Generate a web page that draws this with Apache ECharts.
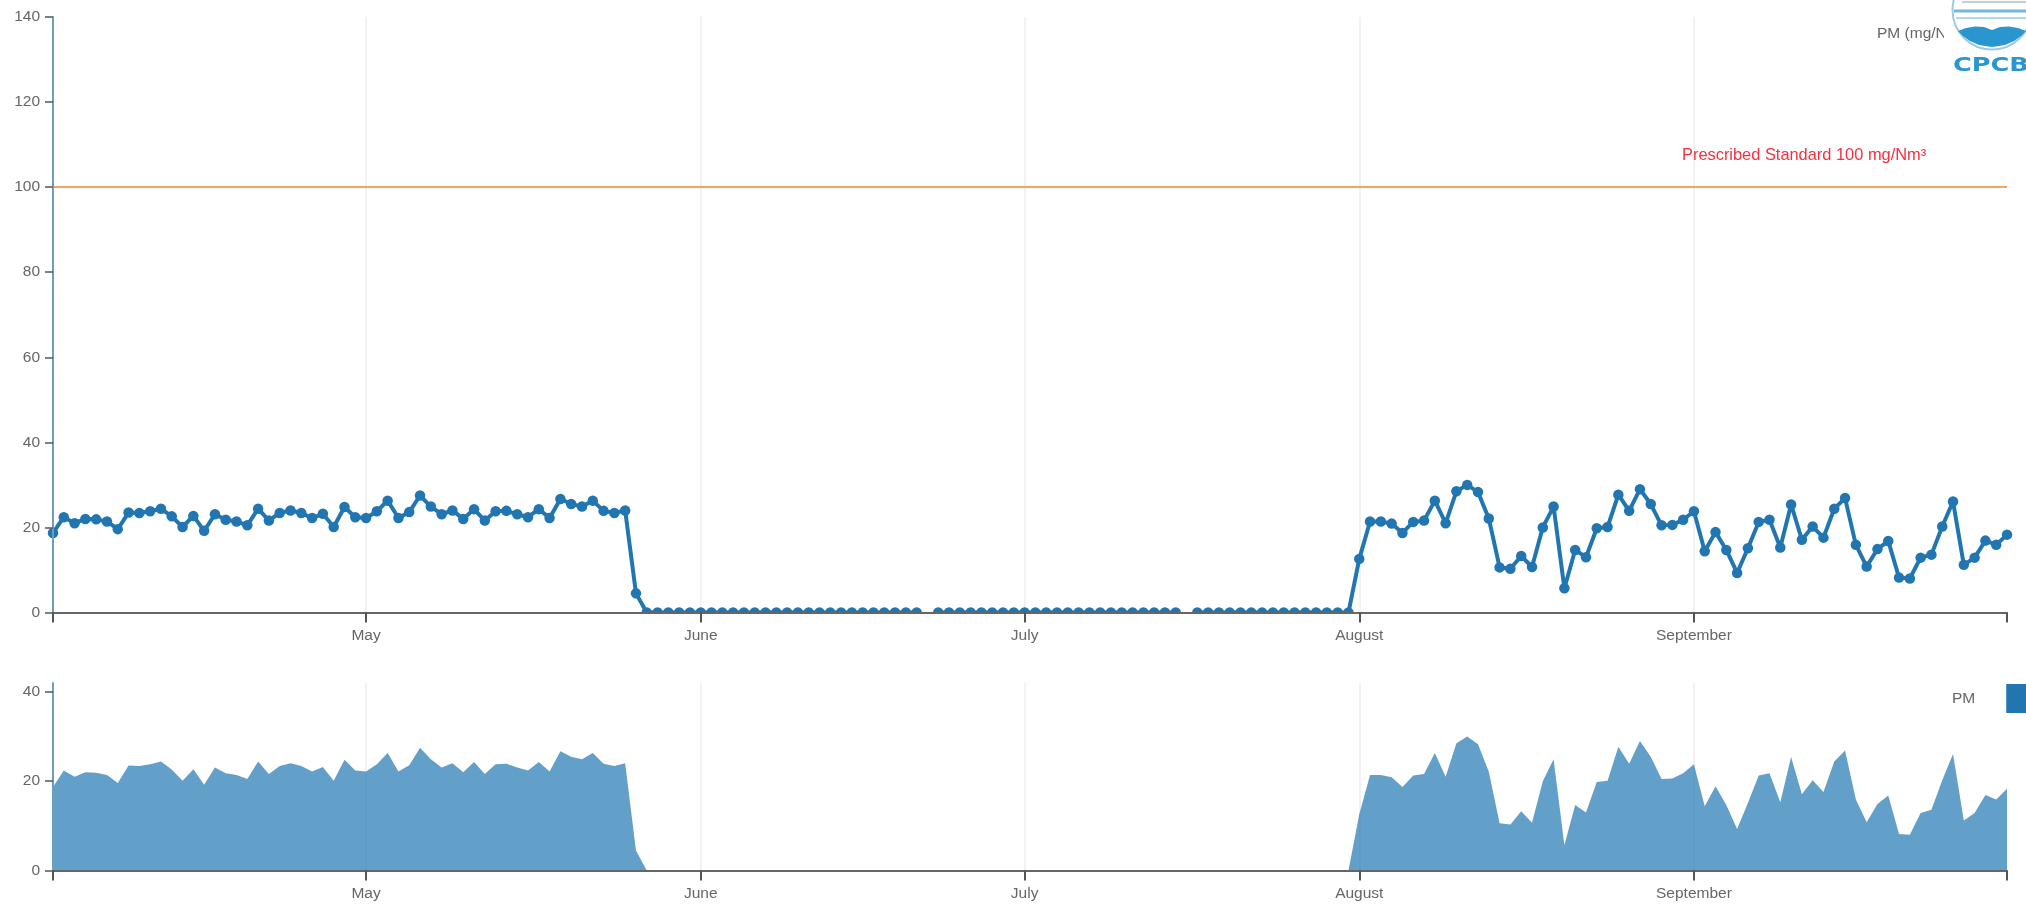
<!DOCTYPE html>
<html>
<head>
<meta charset="utf-8">
<title>PM</title>
<style>html,body{margin:0;padding:0;background:#fff;overflow:hidden}#c{width:2026px;height:905px}</style>
<script src="https://cdn.jsdelivr.net/npm/echarts@6/dist/echarts.min.js"></script>
</head>
<body>
<div id="c"></div>
<script>
const pmValues = [
  18.7,22.4,21.0,22.0,21.9,21.4,19.6,23.5,23.4,23.8,24.4,22.6,20.1,22.7,19.2,23.1,21.8,21.4,20.5,24.4,21.6,23.4,24.0,23.4,22.2,23.2,20.1,24.8,22.4,
  22.2,23.8,26.3,22.2,23.6,27.5,24.9,23.1,24.0,22.0,24.3,21.6,23.8,23.9,23.1,22.4,24.3,22.2,26.7,25.5,24.9,26.3,23.9,23.4,24.0,4.5,
  0,0,0,0,0,0,0,0,0,0,0,0,0,0,0,0,0,0,0,0,0,0,0,0,0,0,
  null,
  0,0,0,0,0,0,0,0,0,0,0,0,0,0,0,0,0,0,0,0,0,0,0,
  null,
  0,0,0,0,0,0,0,0,0,0,0,0,0,0,0,
  12.6,21.4,21.4,20.9,18.7,21.3,21.6,26.3,21.0,28.5,30.0,28.3,22.1,10.6,10.3,13.3,10.7,20.0,24.9,5.7,14.7,13.0,19.8,20.1,27.7,23.9,29.0,25.5,20.5,20.6,21.8,
  23.8,14.4,18.9,14.7,9.3,15.1,21.3,21.8,15.3,25.4,17.1,20.2,17.6,24.4,26.9,15.9,10.8,14.9,16.8,8.2,8.0,12.9,13.6,20.2,26.1,11.2,12.9,16.9,15.9,18.3
];
const monthTicks = {'05-01':'May','06-01':'June','07-01':'July','08-01':'August','09-01':'September'};
const standardValue = 100;
const yMaxBrush = 42;

const days = pmValues.map(function (_, i) {
  const d = new Date(Date.UTC(2021, 3, 2 + i));
  return d.toISOString().slice(5, 10);
});
const lastIdx = days.length - 1;
const isMonth = function (i, v) { return monthTicks[v] !== undefined; };
const isTick = function (i, v) { return i === 0 || i === lastIdx || monthTicks[v] !== undefined; };

const textColor = '#666';
const fontFamily = '"Liberation Sans", Arial, sans-serif';

function xAxis(gridIndex) {
  return {
    type: 'category', gridIndex: gridIndex, data: days, boundaryGap: false, z: 10,
    axisLine: {show: true, onZero: false, lineStyle: {color: '#666', width: 2}},
    axisTick: {show: true, length: 10, interval: isTick, lineStyle: {color: '#555', width: 2}},
    axisLabel: {
      show: true, interval: isMonth, margin: 15, color: textColor, fontSize: 15.5, fontFamily: fontFamily,
      hideOverlap: false, formatter: function (v) { return monthTicks[v] || ''; }
    },
    splitLine: {show: false}
  };
}
function gridLineAxis(gridIndex) {
  return {
    type: 'category', gridIndex: gridIndex, data: days, boundaryGap: false, position: 'top', z: 0,
    axisLine: {show: false}, axisTick: {show: false}, axisLabel: {show: false},
    splitLine: {show: true, interval: isMonth, lineStyle: {color: '#eeeeee', width: 1.5}}
  };
}
function yAxis(gridIndex, max, showMax) {
  return {
    type: 'value', gridIndex: gridIndex, min: 0, max: max, interval: 20, z: 10,
    axisLine: {show: true, lineStyle: {color: '#6f9fb8', width: 2}},
    axisTick: {show: true, length: 8, lineStyle: {color: '#555', width: 1.5}},
    axisLabel: {show: true, margin: 13, color: textColor, fontSize: 15.5, fontFamily: fontFamily, showMaxLabel: showMax},
    splitLine: {show: false}
  };
}

const chart = echarts.init(document.getElementById('c'), null, {renderer: 'canvas'});
chart.setOption({
  backgroundColor: '#fff',
  animation: false,
  grid: [
    {left: 53, right: 19, top: 17, height: 595.5},
    {left: 53, right: 19, top: 683, height: 187.5}
  ],
  legend: {
    show: true, data: ['PM'], left: 1947, top: 679, orient: 'horizontal', align: 'right',
    icon: 'rect', itemWidth: 40, itemHeight: 29, itemGap: 0, selectedMode: false,
    textStyle: {color: textColor, fontSize: 15.5, fontFamily: fontFamily, padding: [0, 26, 0, 0]}
  },
  xAxis: [xAxis(0), xAxis(1), gridLineAxis(0), gridLineAxis(1)],
  yAxis: [yAxis(0, 140, true), yAxis(1, yMaxBrush, false)],
  series: [
    {
      name: 'PM (mg/Nm³)', type: 'line', xAxisIndex: 0, yAxisIndex: 0, data: pmValues,
      symbol: 'circle', symbolSize: 10.5, showSymbol: true, showAllSymbol: true, connectNulls: false, z: 3,
      lineStyle: {color: '#2176b2', width: 4}, itemStyle: {color: '#2176b2'},
      markLine: {
        silent: true, symbol: 'none', animation: false, label: {show: false},
        lineStyle: {color: '#f4a460', width: 2, type: 'solid'},
        data: [{yAxis: standardValue}]
      }
    },
    {
      name: 'PM', type: 'line', xAxisIndex: 1, yAxisIndex: 1, data: pmValues,
      showSymbol: false, symbol: 'none', connectNulls: false, z: 3,
      lineStyle: {width: 0, color: '#2176b2'}, itemStyle: {color: '#2176b2'},
      areaStyle: {color: '#1f77b4', opacity: 0.7}
    }
  ],
  graphic: [
    {type: 'rect', silent: true, z: 5, shape: {x: 30, y: 613, width: 1996, height: 18}, style: {fill: '#fff'}},
    {type: 'text', silent: true, z: 20, x: 1682, y: 147, style: {text: 'Prescribed Standard 100 mg/Nm³', fill: '#f5303f', font: '16.4px "Liberation Sans", Arial, sans-serif'}},
    {type: 'text', silent: true, z: 20, x: 1877, y: 26, style: {text: 'PM (mg/Nm³)', fill: textColor, font: '15.5px "Liberation Sans", Arial, sans-serif'}},
    {type: 'rect', silent: true, z: 21, shape: {x: 1944, y: 0, width: 82, height: 76}, style: {fill: '#fff'}},
    {type: 'circle', silent: true, z: 22, shape: {cx: 1992, cy: 10, r: 39.5}, style: {fill: '#fff', stroke: '#9ccbe0', lineWidth: 2}},
    {type: 'line', silent: true, z: 22, shape: {x1: 1962, y1: 2, x2: 2026, y2: 2}, style: {stroke: '#8a9ea8', lineWidth: 1}},
    {type: 'line', silent: true, z: 22, shape: {x1: 1954, y1: 11, x2: 2026, y2: 11}, style: {stroke: '#74b8da', lineWidth: 3}},
    {type: 'line', silent: true, z: 22, shape: {x1: 1956, y1: 18, x2: 2026, y2: 18}, style: {stroke: '#9ccbe0', lineWidth: 1.5}},
    {type: 'polygon', silent: true, z: 22, shape: {points: [[1958,31],[1966,28],[1975,26.5],[1984,27],[1992,30],[2000,27],[2009,26.5],[2018,28],[2026,31],[2021,36],[2014,41],[2005,45],[1992,47],[1979,45],[1970,41],[1963,36]]}, style: {fill: '#2a96cf'}},
    {type: 'text', silent: true, z: 22, x: 1953, y: 56, scaleX: 1.28, style: {text: 'CPCB', fill: '#2a96cf', font: 'bold 20px "DejaVu Sans", sans-serif'}}
  ]
});
</script>
</body>
</html>
